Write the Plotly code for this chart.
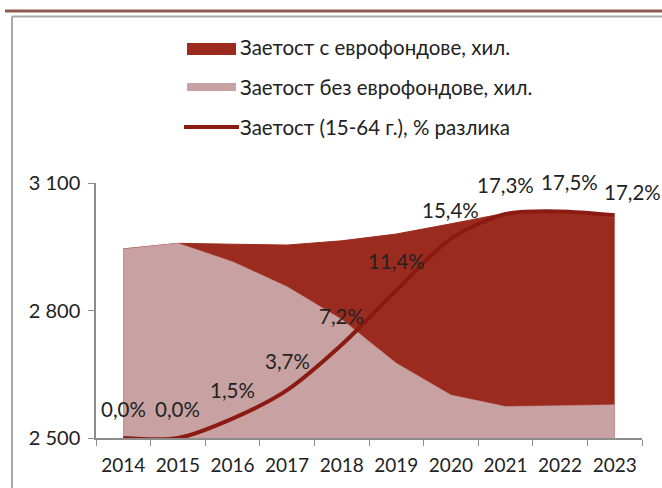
import plotly.graph_objects as go

years = ["2014", "2015", "2016", "2017", "2018", "2019", "2020", "2021", "2022", "2023"]
with_funds = [2945, 2958, 2956, 2954, 2964, 2980, 3004, 3029, 3031, 3019]
without_funds = [2945, 2958, 2915, 2856, 2779, 2676, 2601, 2574, 2576, 2578]
pct_diff = [0.0, 0.0, 1.5, 3.7, 7.2, 11.4, 15.4, 17.3, 17.5, 17.2]
pct_labels = ["0,0%", "0,0%", "1,5%", "3,7%", "7,2%", "11,4%", "15,4%", "17,3%", "17,5%", "17,2%"]
y_ticks = [2500, 2800, 3100]
y_tick_text = ["2 500", "2 800", "3 100"]
legend_names = ["Заетост с еврофондове, хил.", "Заетост без еврофондове, хил.", "Заетост (15-64 г.), % разлика"]

DARK = "#9C2B1F"
PINK = "#C8A2A2"
LINE = "#8B1A12"
FONT = "Lato"
TXT = "#222222"

W, H = 662, 488
L, R, T, B = 96, 20, 183, 50
PW, PH = W - L - R, H - T - B


def px(x):
    return (x - L) / PW


def py(y):
    return (H - B - y) / PH


fig = go.Figure()
fig.add_trace(go.Scatter(x=years, y=with_funds, mode="lines", fill="tozeroy",
                         fillcolor=DARK, line=dict(color=DARK, width=1),
                         name=legend_names[0], showlegend=False))
fig.add_trace(go.Scatter(x=years, y=without_funds, mode="lines", fill="tozeroy",
                         fillcolor=PINK, line=dict(color=PINK, width=0.5),
                         name=legend_names[1], showlegend=False))
fig.add_trace(go.Scatter(x=years, y=pct_diff, mode="lines", yaxis="y2",
                         line=dict(color=LINE, width=4, shape="spline", smoothing=0.8),
                         name=legend_names[2], showlegend=False))

# label nudges (style only): index -> (xshift, yshift)
nudges = {8: (9, 29), 9: (18, 23)}
annotations = []
for i, (v, lab) in enumerate(zip(pct_diff, pct_labels)):
    xs, ys = nudges.get(i, (0, 29))
    annotations.append(dict(x=i, y=v, xref="x", yref="y2", text=lab, showarrow=False,
                            yshift=ys, xshift=xs,
                            font=dict(family=FONT, size=20.5, color=TXT)))

# custom legend
shapes = []
rows = [47, 87, 127]
shapes.append(dict(type="rect", xref="paper", yref="paper", x0=px(187), x1=px(236),
                   y0=py(55), y1=py(43), fillcolor=DARK, line=dict(width=0)))
shapes.append(dict(type="rect", xref="paper", yref="paper", x0=px(187), x1=px(236),
                   y0=py(91), y1=py(83), fillcolor=PINK, line=dict(width=0)))
shapes.append(dict(type="line", xref="paper", yref="paper", x0=px(184), x1=px(239),
                   y0=py(127), y1=py(127), line=dict(color=LINE, width=4)))
for name, r in zip(legend_names, rows):
    annotations.append(dict(x=px(238), y=py(r), xref="paper", yref="paper", text=name,
                            showarrow=False, xanchor="left", yanchor="middle",
                            font=dict(family=FONT, size=20.5, color=TXT)))

# frame lines
shapes.append(dict(type="line", xref="paper", yref="paper", x0=px(5), x1=px(662),
                   y0=py(11), y1=py(11), line=dict(color="#8E5A50", width=3)))
shapes.append(dict(type="line", xref="paper", yref="paper", x0=px(12), x1=px(662),
                   y0=py(16.5), y1=py(16.5), line=dict(color="#A8A8A8", width=2)))
shapes.append(dict(type="line", xref="paper", yref="paper", x0=px(12), x1=px(12),
                   y0=py(16.5), y1=py(488), line=dict(color="#A8A8A8", width=2)))

fig.update_layout(
    width=W, height=H,
    margin=dict(l=L, r=R, t=T, b=B, pad=0),
    paper_bgcolor="white", plot_bgcolor="white",
    font=dict(family=FONT, size=19, color=TXT),
    showlegend=False,
    xaxis=dict(type="category", range=[-0.5, 9.5], showline=True, linecolor="#8C8C8C",
               linewidth=1.5, ticks="outside", tickson="boundaries", ticklen=6,
               tickcolor="#8C8C8C", showgrid=False, zeroline=False,
               ticklabelstandoff=9,
               tickfont=dict(family=FONT, size=19, color=TXT)),
    yaxis=dict(range=[2500, 3100], tickvals=y_ticks, ticktext=y_tick_text, showline=True,
               linecolor="#8C8C8C", linewidth=1.5, ticks="outside", ticklen=6,
               tickcolor="#8C8C8C", showgrid=False, zeroline=False,
               ticklabelstandoff=4,
               tickfont=dict(family=FONT, size=20, color=TXT)),
    yaxis2=dict(range=[0, 19.7], overlaying="y", visible=False, showgrid=False),
    shapes=shapes,
    annotations=annotations,
)

fig.write_html("out.html", config={"displayModeBar": False},
               post_script="document.body.style.margin='0px';document.body.style.overflow='hidden';")
